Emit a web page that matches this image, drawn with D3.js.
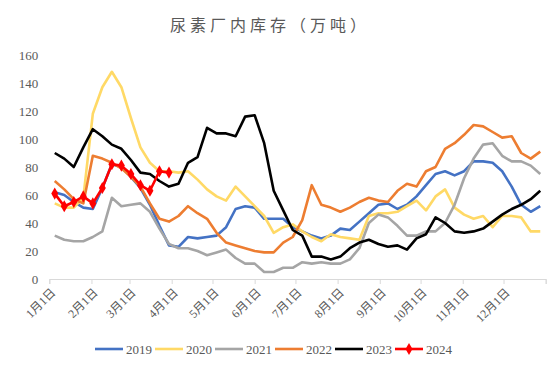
<!DOCTYPE html>
<html>
<head>
<meta charset="utf-8">
<script src="https://cdn.jsdelivr.net/npm/d3@7"></script>
<style>
  body { margin: 0; background: #fff; }
  svg { display: block; }
</style>
</head>
<body>
<div id="chart"></div>
<script>
"use strict";

// weekly observation dates (month/day)
var weeks = ["1/5","1/12","1/19","1/26","2/2","2/9","2/16","2/23","3/2","3/9","3/16","3/23","3/30",
  "4/6","4/13","4/20","4/27","5/4","5/11","5/18","5/25","6/1","6/8","6/15","6/22","6/29",
  "7/6","7/13","7/20","7/27","8/3","8/10","8/17","8/24","8/31","9/7","9/14","9/21","9/28",
  "10/5","10/12","10/19","10/26","11/2","11/9","11/16","11/23","11/30","12/7","12/14","12/21","12/28"];

var years = ["2019", "2020", "2021", "2022", "2023", "2024"];

var v2019 = [62,60,55,51,50,65,82,80,73,65,53,38,24,23,30,29,30,31,37,50,52,51,43,43,43,37,
  34,31,29,31,36,35,41,47,53,54,50,53,59,67,75,77,74,77,84,84,83,77,66,53,48,52];
var v2020 = [54,51,51,58,118,137,148,137,115,94,83,77,77,76,77,71,64,59,56,66,59,52,45,33,37,39,
  34,30,27,32,30,29,28,45,47,47,48,52,56,49,59,64,51,46,43,45,37,45,45,44,34,34];
var v2021 = [31,28,27,27,30,34,58,52,53,54,48,36,25,22,22,20,17,19,21,15,11,11,5,5,8,8,
  12,11,12,11,11,14,22,40,46,44,38,31,31,34,34,40,53,72,86,96,97,88,84,84,81,75];
var v2022 = [70,64,57,54,88,86,83,79,73,66,54,43,41,45,52,47,43,33,26,24,22,20,19,19,26,30,
  42,67,53,51,48,51,55,58,56,55,63,68,66,77,80,93,97,103,110,109,105,101,102,90,86,91];
var v2023 = [90,86,80,94,107,102,96,93,85,76,75,70,66,68,83,87,108,104,104,102,116,117,97,63,49,35,
  31,16,16,14,16,22,26,28,25,23,24,21,29,32,44,40,34,33,34,36,41,46,50,53,57,63];
var v2024 = [61,52,55,59,54,65,82,81,75,67,63,77,76];

var allValues = [v2019, v2020, v2021, v2022, v2023, v2024];
var colors = ["#4472C4", "#FFD966", "#A5A5A5", "#ED7D31", "#000000", "#FF0000"];
var yTicks = [0, 20, 40, 60, 80, 100, 120, 140, 160];

var width = 557;
var height = 373;
var margin = {left: 49.3, right: 11.3, top: 55, bottom: 94};

function parseWeek(s) {
  var p = s.split("/");
  return new Date(Date.UTC(2023, +p[0] - 1, +p[1]));
}

var svg = d3.select("#chart")
  .append("svg")
    .attr("width", width)
    .attr("height", height);

// title
svg.append("text")
  .attr("x", 270)
  .attr("y", 31)
  .attr("text-anchor", "middle")
  .style("font-family", "'Noto Sans CJK SC', sans-serif")
  .style("font-size", "16px")
  .style("letter-spacing", "4px")
  .style("fill", "#595959")
  .text("尿素厂内库存（万吨）");

// scales
var x = d3.scaleUtc()
  .domain([new Date(Date.UTC(2023, 0, 1)), new Date(Date.UTC(2024, 0, 1))])
  .range([margin.left, width - margin.right]);

var y = d3.scaleLinear()
  .domain([0, 160])
  .range([height - margin.bottom, margin.top]);

// x axis
var monthTicks = d3.utcMonth.range(new Date(Date.UTC(2023, 0, 1)), new Date(Date.UTC(2024, 0, 2)));
var xAxis = svg.append("g")
  .attr("transform", "translate(0," + y(0) + ")")
  .call(d3.axisBottom(x)
    .tickValues(monthTicks)
    .tickSize(5)
    .tickFormat(function(d) {
      if (d.getUTCFullYear() > 2023) return "";
      return (d.getUTCMonth() + 1) + "月" + d.getUTCDate() + "日";
    }));
xAxis.select(".domain").attr("stroke", "#D9D9D9");
xAxis.selectAll(".tick line").attr("stroke", "#D9D9D9");
xAxis.selectAll(".tick text")
  .attr("text-anchor", "end")
  .attr("dx", "-0.1em")
  .attr("dy", "0.2em")
  .attr("transform", "translate(0,6) rotate(-45)")
  .style("font-family", "'Liberation Serif', 'Noto Sans CJK SC', serif")
  .style("font-size", "12px")
  .style("fill", "#595959");

// y axis labels (no line)
var yAxis = svg.append("g")
  .attr("transform", "translate(" + (margin.left - 8) + ",0)")
  .call(d3.axisLeft(y).tickValues(yTicks).tickSize(0));
yAxis.select(".domain").remove();
yAxis.selectAll(".tick text")
  .style("font-family", "'Liberation Serif', serif")
  .style("font-size", "13px")
  .style("fill", "#595959");

// lines
var line = d3.line()
  .x(function(d) { return x(d.date); })
  .y(function(d) { return y(d.value); });

var seriesData = years.map(function(yr, i) {
  return {
    name: yr,
    color: colors[i],
    values: allValues[i].map(function(v, j) { return {date: parseWeek(weeks[j]), value: v}; })
  };
});

svg.selectAll("path.series")
  .data(seriesData)
  .enter()
  .append("path")
    .attr("class", "series")
    .attr("d", function(d) { return line(d.values); })
    .attr("fill", "none")
    .attr("stroke", function(d) { return d.color; })
    .attr("stroke-width", 2.6)
    .attr("stroke-linejoin", "round");

// 2024 markers
var diamond = d3.symbol().type(d3.symbolDiamond).size(42);
svg.selectAll("path.marker")
  .data(seriesData[5].values)
  .enter()
  .append("path")
    .attr("class", "marker")
    .attr("d", diamond)
    .attr("transform", function(d) { return "translate(" + x(d.date) + "," + y(d.value) + ")"; })
    .attr("fill", "#FF0000");

// legend
var legend = svg.append("g").attr("transform", "translate(95,349)");
var item = legend.selectAll("g")
  .data(seriesData)
  .enter()
  .append("g")
    .attr("transform", function(d, i) { return "translate(" + (i * 60) + ",0)"; });
item.append("line")
  .attr("x1", 0).attr("x2", 28)
  .attr("stroke", function(d) { return d.color; })
  .attr("stroke-width", 2.6);
item.filter(function(d) { return d.name === "2024"; })
  .append("path")
    .attr("d", diamond)
    .attr("transform", "translate(14,0)")
    .attr("fill", "#FF0000");
item.append("text")
  .attr("x", 31)
  .attr("dy", "0.35em")
  .style("font-family", "'Liberation Serif', serif")
  .style("font-size", "13px")
  .style("fill", "#595959")
  .text(function(d) { return d.name; });
</script>
</body>
</html>
